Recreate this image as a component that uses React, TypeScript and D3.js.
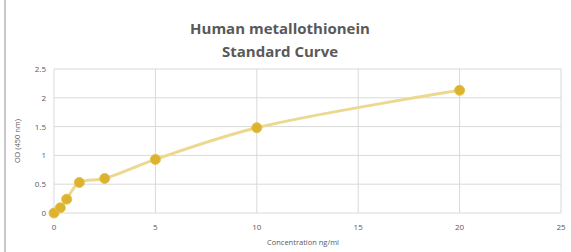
import React from "react";
import * as d3 from "d3";

const concentrations = [0, 0.3125, 0.625, 1.25, 2.5, 5, 10, 20];
const odValues = [0, 0.09, 0.24, 0.53, 0.6, 0.93, 1.48, 2.13];
const xTicks = [0, 5, 10, 15, 20, 25];
const yTicks = [0, 0.5, 1, 1.5, 2, 2.5];
const titleLines = ["Human metallothionein", "Standard Curve"];
const xTitle = "Concentration ng/ml";
const yTitle = "OD (450 nm)";

export default function App() {
  const W = 571, H = 252;
  const left = 54, right = 561, top = 69, bottom = 213;
  const x = d3.scaleLinear().domain([0, 25]).range([left, right]);
  const y = d3.scaleLinear().domain([0, 2.5]).range([bottom, top]);
  const pts = concentrations.map((c, i) => [c, odValues[i]] as [number, number]);
  const line = d3
    .line<[number, number]>()
    .x((d) => x(d[0]))
    .y((d) => y(d[1]))
    .curve(d3.curveCatmullRom.alpha(0.5));
  const font = "'Open Sans', 'Liberation Sans', sans-serif";
  const grid = "#d9d9d9";
  const text = "#595959";
  return (
    <svg
      width={W}
      height={H}
      style={{ position: "absolute", left: 0, top: 0, background: "#fff" }}
      fontFamily={font}
    >
      <rect x={0} y={0} width={W} height={H} fill="#fff" />
      <rect x={4} y={0} width={2} height={H} fill="#c8c8c8" />
      {titleLines.map((t, i) => (
        <text
          key={t}
          x={280}
          y={34 + i * 23}
          textAnchor="middle"
          fontSize={15}
          fontWeight={700}
          fill={text}
        >
          {t}
        </text>
      ))}
      {yTicks.map((t) => (
        <line key={"gy" + t} x1={left} x2={right} y1={y(t)} y2={y(t)} stroke={grid} strokeWidth={1} />
      ))}
      {xTicks.map((t) => (
        <line key={"gx" + t} x1={x(t)} x2={x(t)} y1={top} y2={bottom} stroke={grid} strokeWidth={1} />
      ))}
      {yTicks.map((t) => (
        <text key={"ty" + t} x={46} y={y(t) + 3} textAnchor="end" fontSize={8} fill={text}>
          {String(t)}
        </text>
      ))}
      {xTicks.map((t) => (
        <text key={"tx" + t} x={x(t)} y={230} textAnchor="middle" fontSize={8} fill={text}>
          {String(t)}
        </text>
      ))}
      <text x={303} y={245} textAnchor="middle" fontSize={7.5} fill={text}>
        {xTitle}
      </text>
      <text
        transform={`translate(20,${(top + bottom) / 2}) rotate(-90)`}
        textAnchor="middle"
        fontSize={7.5}
        fill={text}
      >
        {yTitle}
      </text>
      <path d={line(pts) || ""} fill="none" stroke="#ecd98f" strokeWidth={3} strokeLinejoin="round" />
      {pts.map((p, i) => (
        <circle key={i} cx={x(p[0])} cy={y(p[1])} r={5} fill="#dcb22e" stroke="#e6c14a" strokeWidth={1} />
      ))}
    </svg>
  );
}
